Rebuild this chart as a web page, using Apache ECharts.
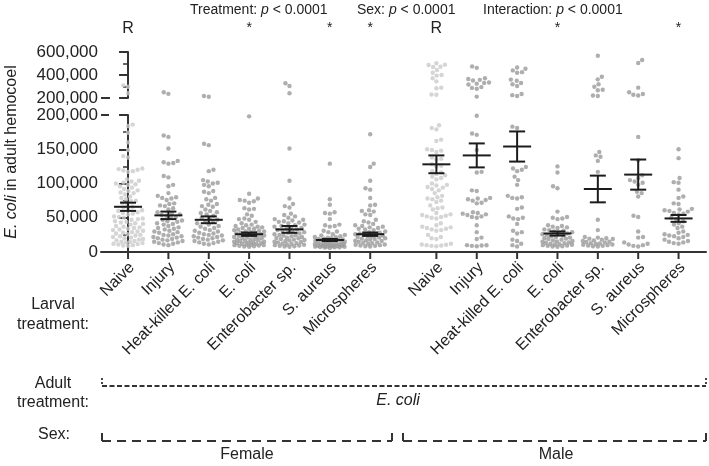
<!DOCTYPE html>
<html>
<head>
<meta charset="utf-8">
<script src="https://cdn.jsdelivr.net/npm/echarts@6/dist/echarts.min.js"></script>
<style>
  html, body { margin: 0; padding: 0; background: #fff; }
  #chart { width: 709px; height: 466px; }
</style>
</head>
<body>
<div id="chart"></div>
<script>
// categories and where they sit on the x axis (male block shifted right)
const categories = ['Naive', 'Injury', 'Heat-killed E. coli', 'E. coli', 'Enterobacter sp.', 'S. aureus', 'Microspheres',
  'Naive', 'Injury', 'Heat-killed E. coli', 'E. coli', 'Enterobacter sp.', 'S. aureus', 'Microspheres']
const xPositions = [0, 1, 2, 3, 4, 5, 6, 7.64, 8.64, 9.64, 10.64, 11.64, 12.64, 13.64]
const sigMarks = ['R', '', '', '*', '', '*', '*', 'R', '', '', '*', '', '', '*']
const groupMeans = [66000, 53500, 47000, 26000, 33000, 17500, 26000, 128000, 141000, 154000, 27000, 92000, 113000, 49000]
const groupSems = [6000, 5500, 5000, 2500, 5000, 1500, 2500, 13000, 17500, 22000, 3000, 19500, 22000, 5000]
const lowerTicks = [0, 50000, 100000, 150000, 200000]
const upperTicks = [200000, 400000, 600000]

// E. coli counts per fly
const femaleNaive = [310000, 298000, 241000, 186000, 184000, 174000, 160000, 149000, 140000, 138000,
  122000, 121000, 120000, 119000, 118000, 117000, 106000, 104000, 103000, 101000, 100000, 99000, 98000, 96000,
  94000, 92000, 90000, 89000, 87000, 86000, 84000, 81000, 79000, 77000, 75000, 74000, 72000, 70000,
  66000, 65000, 63000, 61000, 60000, 58000, 57000, 56000, 55000, 52000, 51000, 50000, 49000, 48000, 47000,
  45000, 44000, 43000, 42000, 41000, 40000, 38000, 37000, 36000, 35000, 34000, 33000, 32000, 31000, 30000,
  29000, 28000, 27000, 26000, 25000, 24000, 23000, 22000, 21000, 20000, 19000, 18000, 17000, 16000, 15000,
  14500, 14000, 13000, 12000, 11500, 11000, 10000, 9500, 9000]
const femaleInjury = [250000, 236000, 170000, 168000, 151000, 133000, 131000, 130000, 129000, 111000, 109000,
  98000, 96000, 86000, 82000, 80000, 79000, 78000, 76000, 71000, 70000, 68000, 67000, 64000, 62000,
  58000, 57000, 55000, 54000, 53000, 51000, 50000, 47000, 46000, 45000, 44000, 42000, 41000, 40000, 38000,
  36000, 35000, 34000, 33000, 31000, 30000, 29000, 28000, 26000, 25000, 24000, 23000, 22000, 21000, 20000,
  19000, 18000, 17000, 16000, 15000, 14000, 13000, 12000, 11000, 10000]
const femaleHeatKilled = [218000, 211000, 158000, 156000, 120000, 118000, 105000, 103000, 101000, 100000, 98000,
  96000, 89000, 88000, 86000, 79000, 77000, 75000, 70000, 69000, 67000, 66000, 62000, 60000, 58000, 57000,
  55000, 53000, 50000, 49000, 47000, 45000, 44000, 42000, 40000, 38000, 37000, 35000, 34000, 32000, 31000,
  30000, 28000, 27000, 26000, 25000, 24000, 23000, 22000, 21000, 20000, 19000, 18000, 17000, 16000, 15000,
  14000, 13000, 12000, 11000]
const femaleEcoli = [198000, 85000, 78000, 76000, 75000, 74000, 72000, 64000, 63000, 62000, 55000, 53000,
  49000, 48000, 47000, 44000, 42000, 40000, 39000, 38000, 37000, 36000, 35000, 34000, 34000, 33000, 32000,
  31000, 30000, 30000, 29000, 28000, 28000, 27000, 26000, 26000, 25000, 24000, 24000, 23000, 22000, 22000,
  21000, 20000, 20000, 19000, 18000, 18000, 17000, 16000, 16000, 15000, 15000, 14000, 14000, 13000, 13000,
  12000, 12000, 11000, 11000, 10000, 10000, 9500, 9000, 8500, 8000, 7500]
const femaleEnterobacter = [328000, 304000, 241000, 151000, 104000, 78000, 70000, 67000, 65000, 56000, 54000,
  52000, 50000, 48000, 47000, 46000, 45000, 44000, 43000, 42000, 40000, 39000, 38000, 37000, 36000, 35000,
  34000, 33000, 32000, 31000, 30000, 29000, 28000, 27000, 26000, 25000, 24500, 24000, 23000, 22000, 21000,
  20500, 20000, 19000, 18000, 17500, 17000, 16000, 15000, 14500, 14000, 13000, 12500, 12000, 11000, 10500,
  10000, 9500, 9000, 8500, 8000, 7500]
const femaleSaureus = [129000, 77000, 69000, 58000, 57000, 56000, 48000, 40000, 39000, 38000, 37000, 31000,
  30000, 29000, 26000, 25000, 24000, 23000, 22000, 21500, 21000, 20000, 19500, 19000, 18500, 18000, 17500,
  17000, 16500, 16000, 15500, 15000, 14500, 14000, 13500, 13000, 12500, 12000, 11500, 11000, 10800, 10500,
  10000, 9800, 9500, 9200, 9000, 8800, 8500, 8200, 8000, 7800, 7500, 7200, 7000, 6800, 6500, 6000]
const femaleMicrospheres = [172000, 129000, 124000, 104000, 93000, 91000, 79000, 69000, 68000, 61000, 60000,
  59000, 55000, 54000, 47000, 45000, 43000, 41000, 39000, 38000, 37000, 36000, 35000, 34000, 33000, 32000,
  30000, 29000, 28000, 27000, 26000, 25500, 25000, 24000, 23000, 22500, 22000, 21000, 20000, 19500, 19000,
  18000, 17000, 16500, 16000, 15000, 14000, 13500, 13000, 12000, 11000, 10500, 10000, 9500, 9000, 8500, 8000]
const maleNaive = [502000, 490000, 487000, 472000, 470000, 443000, 420000, 400000, 395000, 372000, 345000,
  290000, 285000, 230000, 228000, 185000, 181000, 179000, 164000, 162000, 150000, 149000, 148000, 146000,
  138000, 136000, 135000, 128000, 126000, 125000, 118000, 116000, 114000, 112000, 110000, 108000, 106000,
  100000, 98000, 97000, 95000, 94000, 92000, 90000, 86000, 82000, 80000, 78000, 77000, 75000, 73000,
  68000, 65000, 64000, 62000, 57000, 55000, 54000, 53000, 52000, 51000, 50000, 49000, 42000, 39000, 37000,
  36000, 35000, 34000, 33000, 32000, 31000, 25000, 22000, 20000, 19000, 12000, 11000, 10500, 10000, 9500,
  9000, 8500]
const maleInjury = [475000, 462000, 372000, 365000, 358000, 352000, 335000, 330000, 325000, 318000, 295000,
  288000, 280000, 212000, 199000, 173000, 171000, 149000, 117000, 116000, 90000, 89000, 79000, 78000, 77000,
  76000, 75000, 72000, 71000, 58000, 57000, 56000, 55000, 54000, 52000, 51000, 50000, 39000, 29000, 21000,
  19000, 10000, 9800, 9500, 9000, 8500]
const maleHeatKilled = [465000, 455000, 440000, 425000, 420000, 360000, 350000, 330000, 320000, 305000,
  235000, 225000, 218000, 183000, 181000, 124000, 122000, 120000, 118000, 110000, 105000, 98000, 82000,
  80000, 79000, 78000, 65000, 63000, 52000, 50000, 49000, 48000, 41000, 31000, 29000, 27000, 18000, 16000,
  12000, 10000, 8000]
const maleEcoli = [125000, 116000, 96000, 93000, 59000, 51000, 50000, 49000, 48000, 39000, 38000, 37000,
  36000, 35000, 33000, 32000, 31000, 30000, 29000, 28000, 27000, 26000, 25000, 24000, 23000, 22000, 21000,
  20000, 19500, 19000, 18000, 17000, 16000, 15500, 15000, 14000, 13500, 13000, 12000, 11500, 11000, 10500,
  10000, 9500, 9000, 8500, 8000, 7500]
const maleEnterobacter = [568000, 385000, 362000, 320000, 298000, 272000, 268000, 222000, 218000, 146000,
  141000, 139000, 133000, 117000, 47000, 32000, 22000, 21000, 20000, 19500, 19000, 18000, 17000, 16000,
  15000, 14500, 14000, 13000, 12500, 12000, 11000, 10500, 10000, 9500, 9000, 8500, 8000]
const maleSaureus = [530000, 505000, 290000, 250000, 235000, 228000, 222000, 168000, 134000, 112000, 108000,
  105000, 103000, 101000, 98000, 88000, 86000, 81000, 53000, 51000, 30000, 22000, 21000, 14000, 12000, 11000,
  10000, 9000, 8000]
const maleMicrospheres = [150000, 137000, 108000, 102000, 101000, 91000, 81000, 79000, 71000, 70000, 63000,
  62000, 61000, 60000, 59000, 57000, 56000, 55000, 50000, 48000, 45000, 42000, 40000, 37000, 35000, 30000,
  28000, 26000, 25000, 24000, 23000, 22000, 20000, 18000, 16000, 15000, 14000, 13000, 12000]

const groupValues = [femaleNaive, femaleInjury, femaleHeatKilled, femaleEcoli, femaleEnterobacter, femaleSaureus,
  femaleMicrospheres, maleNaive, maleInjury, maleHeatKilled, maleEcoli, maleEnterobacter, maleSaureus, maleMicrospheres]

const FONT = "'Liberation Sans', Arial, sans-serif"
const TXT = '#222'
const AX = '#333'
const chart = echarts.init(document.getElementById('chart'))

const fmt = (v) => v.toLocaleString('en-US')
const yAxisBase = (idx, min, max, interval) => ({
  gridIndex: idx,
  type: 'value',
  min: min,
  max: max,
  interval: interval,
  axisLine: { show: true, lineStyle: { color: AX, width: 2 } },
  axisTick: { show: true, length: 9, lineStyle: { color: AX, width: 2 } },
  minorTick: { show: true, splitNumber: 2, length: 5, lineStyle: { color: AX, width: 1.5 } },
  axisLabel: {
    margin: 3, fontSize: 17, fontFamily: FONT, color: TXT,
    formatter: (v) => (idx === 0 ? upperTicks : lowerTicks).indexOf(v) >= 0 ? fmt(v) : '',
  },
  splitLine: { show: false },
})

const baseOption = {
  animation: false,
  grid: [
    { left: 101, right: 3, top: 52, height: 46 },
    { left: 101, right: 3, top: 115, height: 137 },
  ],
  xAxis: [
    { gridIndex: 0, type: 'value', min: -0.67, max: 14.32, show: false },
    {
      gridIndex: 1, type: 'value', min: -0.67, max: 14.32,
      axisLine: { show: true, onZero: false, lineStyle: { color: AX, width: 2 } },
      axisTick: { show: false }, axisLabel: { show: false }, splitLine: { show: false },
    },
  ],
  yAxis: [yAxisBase(0, 200000, 600000, 200000), yAxisBase(1, 0, 200000, 50000)],
  graphic: [],
  series: [],
}
chart.setOption(baseOption)

// beeswarm: spread points sideways (in pixels) so they don't overlap
function swarm(ys, d, maxHalf) {
  const order = ys.map((y, i) => i).sort((a, b) => ys[b] - ys[a])
  const placed = []
  const out = new Array(ys.length)
  let flip = 1
  order.forEach((i) => {
    const y = ys[i]
    const near = placed.filter((p) => Math.abs(p.y - y) < d)
    const cands = [0]
    near.forEach((p) => {
      const dx = Math.sqrt(d * d - (p.y - y) * (p.y - y))
      cands.push(p.x + dx, p.x - dx)
    })
    cands.sort((a, b) => Math.abs(a) - Math.abs(b) || (a - b) * flip)
    const ok = (c) => near.every((p) => (c - p.x) * (c - p.x) + (y - p.y) * (y - p.y) >= d * d - 0.01)
    let x = cands.find((c) => Math.abs(c) <= maxHalf && ok(c))
    if (x === undefined) {
      let best = 0, bestD = -1
      for (let c = -maxHalf; c <= maxHalf; c += 0.5) {
        const m = Math.min(...near.map((p) => Math.hypot(c - p.x, y - p.y)))
        if (m > bestD) { bestD = m; best = c }
      }
      x = best
    }
    if (x !== 0) flip = x > 0 ? 1 : -1
    placed.push({ x: x, y: y })
    out[i] = x
  })
  return out
}

const pts = { up: { light: [], dark: [] }, low: { light: [], dark: [] } }
groupValues.forEach((vals, gi) => {
  const color = gi === 0 || gi === 7 ? 'light' : 'dark'
  ;[['up', 0, vals.filter((v) => v > 200000)], ['low', 1, vals.filter((v) => v <= 200000)]].forEach(([key, g, vs]) => {
    if (!vs.length) return
    const p0 = chart.convertToPixel({ gridIndex: g }, [0, 0])
    const p1 = chart.convertToPixel({ gridIndex: g }, [1, 0])
    const pxPerUnit = p1[0] - p0[0]
    const ys = vs.map((v) => chart.convertToPixel({ gridIndex: g }, [xPositions[gi], v])[1])
    const offs = swarm(ys, 4.9, 15)
    vs.forEach((v, k) => pts[key][color].push([xPositions[gi] + offs[k] / pxPerUnit, v]))
  })
})

const scatter = (g, data, color) => ({
  type: 'scatter', xAxisIndex: g, yAxisIndex: g, data: data,
  symbolSize: 4.4, itemStyle: { color: color }, silent: true, z: 2,
})

const lineEl = (x1, y1, x2, y2, w, dash) => ({
  type: 'line', shape: { x1, y1, x2, y2 },
  style: { stroke: AX, lineWidth: w || 2, lineDash: dash || null },
})
const textEl = (x, y, text, opts) => ({
  type: 'text', x: x, y: y, rotation: (opts && opts.rotation) || 0,
  style: Object.assign({ text: text, fontSize: 16, fontFamily: FONT, fill: TXT, align: 'center', verticalAlign: 'middle',
    rich: { i: { fontStyle: 'italic', fontSize: (opts && opts.fontSize) || 16, fontFamily: FONT, fill: TXT } } }, opts && opts.style),
})

const top200 = chart.convertToPixel({ gridIndex: 0 }, [-0.67, 200000])
const bot200 = chart.convertToPixel({ gridIndex: 1 }, [-0.67, 200000])
const small = { fontSize: 14, align: 'left' }

chart.setOption({
  graphic: [
    // axis break caps
    lineEl(top200[0], top200[1], top200[0] + 9, top200[1]),
    lineEl(bot200[0], bot200[1], bot200[0] + 8, bot200[1]),
    // stats header
    textEl(190, 10, 'Treatment: {i|p} < 0.0001', { fontSize: 14, style: small }),
    textEl(357, 10, 'Sex: {i|p} < 0.0001', { fontSize: 14, style: small }),
    textEl(483, 10, 'Interaction: {i|p} < 0.0001', { fontSize: 14, style: small }),
    // y axis title
    textEl(12, 152, '{i|E. coli} in adult hemocoel', { rotation: Math.PI / 2 }),
    // left side row labels
    textEl(53, 305, 'Larval'), textEl(53, 325, 'treatment:'),
    textEl(53, 384, 'Adult'), textEl(53, 403, 'treatment:'),
    textEl(54, 435, 'Sex:'),
    // adult treatment bracket
    lineEl(102, 386, 706, 386, 1.8, [5, 2.5]),
    lineEl(102, 378, 102, 386, 1.8, [2, 2]),
    lineEl(706, 378, 706, 386, 1.8, [2, 2]),
    textEl(398, 401, '{i|E. coli}'),
    // sex brackets
    lineEl(102, 441, 392, 441, 2, [9, 6]),
    lineEl(102, 433, 102, 441, 2),
    lineEl(392, 433, 392, 441, 2),
    lineEl(403, 441, 706, 441, 2, [9, 6]),
    lineEl(403, 433, 403, 441, 2),
    lineEl(706, 433, 706, 441, 2),
    textEl(247, 455, 'Female'),
    textEl(556, 455, 'Male'),
  ],
  series: [
    scatter(0, pts.up.light, '#cbcbcb'),
    scatter(0, pts.up.dark, '#9a9a9a'),
    scatter(1, pts.low.light, '#cbcbcb'),
    scatter(1, pts.low.dark, '#9a9a9a'),
    {
      // mean ± SEM
      type: 'custom', xAxisIndex: 1, yAxisIndex: 1, z: 5, clip: false, silent: true,
      data: xPositions.map((p, i) => [p, groupMeans[i], groupSems[i]]),
      renderItem: (params, api) => {
        const m = api.coord([api.value(0), api.value(1)])
        const hi = api.coord([api.value(0), api.value(1) + api.value(2)])
        const lo = api.coord([api.value(0), api.value(1) - api.value(2)])
        const st = { stroke: '#1c1c1c', lineWidth: 2 }
        return {
          type: 'group',
          children: [
            { type: 'line', shape: { x1: m[0] - 14, y1: m[1], x2: m[0] + 14, y2: m[1] }, style: st },
            { type: 'line', shape: { x1: m[0], y1: hi[1], x2: m[0], y2: lo[1] }, style: st },
            { type: 'line', shape: { x1: m[0] - 8, y1: hi[1], x2: m[0] + 8, y2: hi[1] }, style: st },
            { type: 'line', shape: { x1: m[0] - 8, y1: lo[1], x2: m[0] + 8, y2: lo[1] }, style: st },
          ],
        }
      },
    },
    {
      // category ticks and rotated labels
      type: 'custom', xAxisIndex: 1, yAxisIndex: 1, z: 4, clip: false, silent: true,
      data: xPositions.map((p, i) => [p, 0, i]),
      renderItem: (params, api) => {
        const c = api.coord([api.value(0), 0])
        return {
          type: 'group',
          children: [
            { type: 'line', shape: { x1: c[0], y1: c[1] + 1, x2: c[0], y2: c[1] + 7 }, style: { stroke: AX, lineWidth: 2 } },
            {
              type: 'text', x: c[0] + 4, y: c[1] + 13, rotation: Math.PI / 4,
              style: { text: categories[api.value(2)], fontSize: 16, fontFamily: FONT, fill: TXT, align: 'right', verticalAlign: 'middle' },
            },
          ],
        }
      },
    },
    {
      // significance marks above the groups
      type: 'custom', xAxisIndex: 0, yAxisIndex: 0, z: 4, clip: false, silent: true,
      data: xPositions.map((p, i) => [p, 600000, i]),
      renderItem: (params, api) => {
        const c = api.coord([api.value(0), 600000])
        const s = sigMarks[api.value(2)]
        return {
          type: 'text', x: c[0], y: s === 'R' ? c[1] - 23 : c[1] - 24,
          style: { text: s, fontSize: s === 'R' ? 16 : 14, fontFamily: FONT, fill: TXT, align: 'center', verticalAlign: 'middle' },
        }
      },
    },
  ],
})
</script>
</body>
</html>
